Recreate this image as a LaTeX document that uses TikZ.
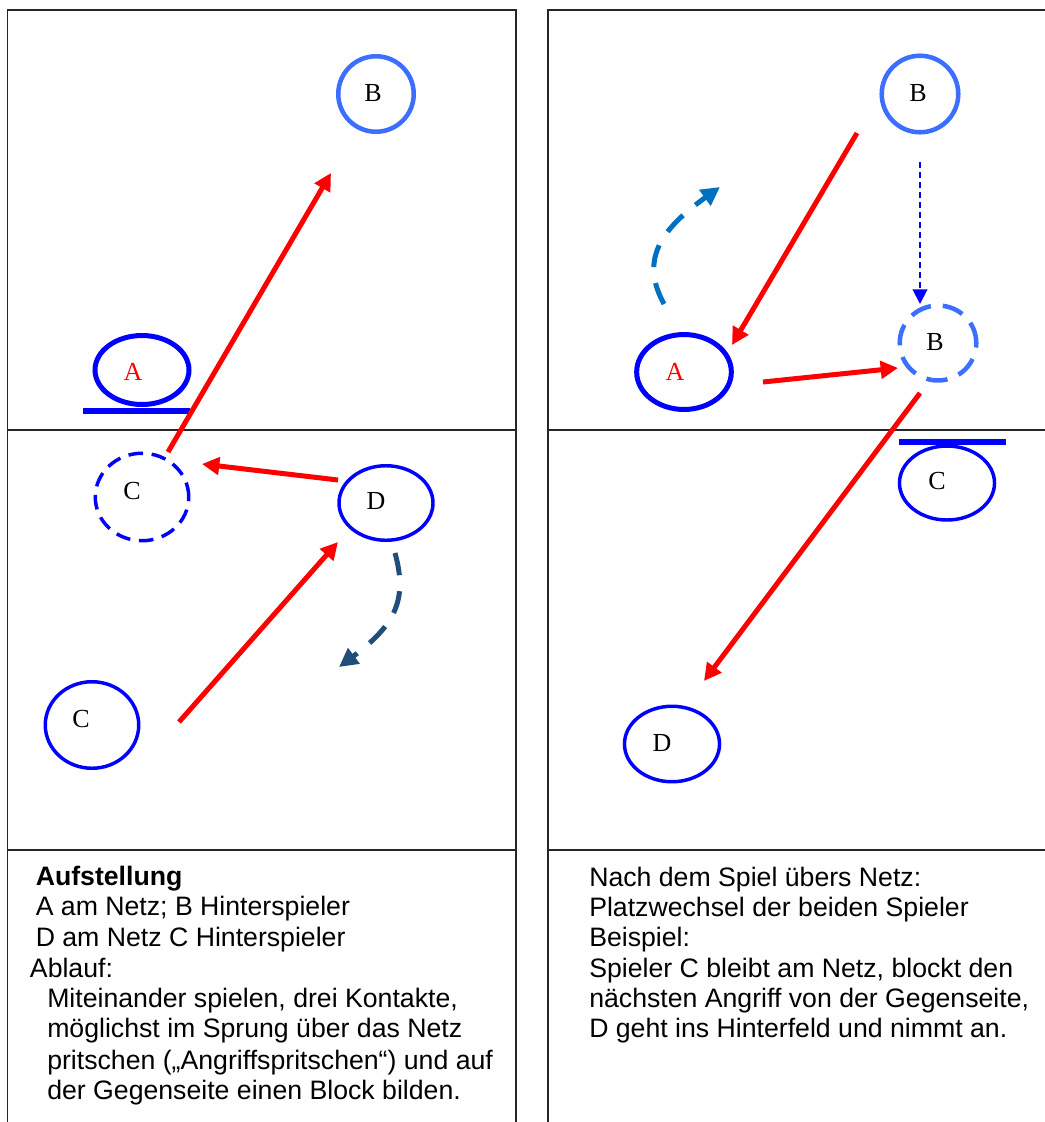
\documentclass[tikz,border=0pt]{standalone}
\usepackage{fontspec}
\setmainfont{Liberation Serif}
\newfontfamily\sansf{Liberation Sans}
\usetikzlibrary{arrows.meta,shapes.geometric}
\definecolor{pblue}{RGB}{0,0,255}
\definecolor{lblue}{RGB}{60,110,255}
\definecolor{pred}{RGB}{255,0,0}
\definecolor{dkblue}{RGB}{31,78,121}
\definecolor{tblue}{RGB}{0,112,192}
\begin{document}
\begin{tikzpicture}[x=0.75pt,y=-0.75pt,
  frame/.style={line width=1.3pt,black!85},
  player/.style 2 args={ellipse,draw=pblue,line width=2.6pt,inner sep=0pt,minimum width=#1,minimum height=#2},
  lab/.style={inner sep=0pt,font=\fontsize{19.5pt}{22pt}\selectfont},
  pass/.style={draw=pred,line width=3.75pt,-{Triangle[length=13pt,width=13pt]}},
  run/.style={line width=3.75pt,dash pattern=on 17pt off 12pt,-{Triangle[length=14pt,width=14pt]}},
  netbar/.style={draw=pblue,line width=4.3pt},
  txt/.style={inner sep=0pt,anchor=base west,font=\sansf\fontsize{20pt}{23pt}\selectfont}]
\useasboundingbox (0,0) rectangle (1045,1122);
% frames
\draw[frame] (7.5,1122) -- (7.5,10) -- (516,10) -- (516,1122);
\draw[frame] (7.5,430) -- (516,430);
\draw[frame] (7.5,850) -- (516,850);
\draw[frame] (548,1122) -- (548,10) -- (1045,10);
\draw[frame] (548,430) -- (1045,430);
\draw[frame] (548,850) -- (1045,850);
% ---------------- left panel
\node[player={56.6pt}{56.6pt},draw=lblue,line width=3.4pt] (B1) at (376,94) {};
\node[lab] (B1l) at (373,93) {B};
\node[player={70.5pt}{51.75pt},line width=3.75pt] (A1) at (142,370) {};
\node[lab,text=pred] (A1l) at (133,372) {A};
\coordinate (bar1a) at (83,411);
\coordinate (bar1b) at (190,411);
\draw[netbar] (bar1a) -- (bar1b);
\node[player={70.1pt}{65.6pt},dash pattern=on 11pt off 6.5pt] (C1) at (142,497) {};
\node[lab] (C1l) at (132,491) {C};
\node[player={70.5pt}{55.9pt}] (D1) at (386,503) {};
\node[lab] (D1l) at (376,501) {D};
\node[player={70.1pt}{64.9pt}] (C2) at (92,725) {};
\node[lab] (C2l) at (81,719) {C};
\coordinate (p1s) at (168,452);
\coordinate (p1e) at (331,173);
\coordinate (p2s) at (338,480);
\coordinate (p2e) at (202,464);
\coordinate (p3s) at (179,722);
\coordinate (p3e) at (338,542);
\draw[pass] (p1s) -- (p1e);
\draw[pass] (p2s) -- (p2e);
\draw[pass] (p3s) -- (p3e);
\coordinate (r1s) at (395,553);
\coordinate (r1e) at (339,667);
\draw[run,draw=dkblue] (r1s) .. controls (408,600) and (395,625) .. (r1e);
% ---------------- right panel
\node[player={57.4pt}{57.4pt},draw=lblue,line width=3.4pt] (B2) at (920,94) {};
\node[lab] (B2l) at (918,93) {B};
\node[player={57.4pt}{56.2pt},draw=lblue,line width=3.4pt,dash pattern=on 16pt off 9pt] (B3) at (938,343) {};
\node[lab] (B3l) at (935,342) {B};
\node[player={71pt}{56.2pt},line width=3.75pt] (A2) at (684,372) {};
\node[lab,text=pred] (A2l) at (675,372) {A};
\coordinate (bar2a) at (899,442);
\coordinate (bar2b) at (1006,442);
\draw[netbar] (bar2a) -- (bar2b);
\node[player={71.3pt}{55.5pt}] (C3) at (947,483) {};
\node[lab] (C3l) at (937,481) {C};
\node[player={71.3pt}{56.6pt}] (D2) at (672,744) {};
\node[lab] (D2l) at (662,743) {D};
\coordinate (q1s) at (857,133);
\coordinate (q1e) at (732,345);
\coordinate (q2s) at (763,382);
\coordinate (q2e) at (898,368);
\coordinate (q3s) at (920,393);
\coordinate (q3e) at (704,681);
\draw[pass] (q1s) -- (q1e);
\draw[pass] (q2s) -- (q2e);
\draw[pass] (q3s) -- (q3e);
\coordinate (m1s) at (920,162);
\coordinate (m1e) at (920,304);
\draw[draw=pblue,line width=1.5pt,dash pattern=on 4.5pt off 3pt,-{Triangle[length=11pt,width=11pt]}] (m1s) -- (m1e);
\coordinate (r2s) at (664,304);
\coordinate (r2e) at (720,187);
\draw[run,draw=tblue] (r2s) .. controls (640,260) and (660,230) .. (r2e);
% ---------------- texts
\node[txt,font=\sansf\bfseries\fontsize{20pt}{23pt}\selectfont] (t1) at (35.5,885) {Aufstellung};
\node[txt] (t2) at (35.5,915) {A am Netz; B Hinterspieler};
\node[txt] (t3) at (35.5,946) {D am Netz C Hinterspieler};
\node[txt] (t4) at (29.7,977) {Ablauf:};
\node[txt] (t5) at (47,1007) {Miteinander spielen, drei Kontakte,};
\node[txt] (t6) at (47,1037) {möglichst im Sprung über das Netz};
\node[txt] (t7) at (47,1069) {pritschen („Angriffspritschen“) und auf};
\node[txt] (t8) at (47,1099) {der Gegenseite einen Block bilden.};
\node[txt] (u1) at (589,886) {Nach dem Spiel übers Netz:};
\node[txt] (u2) at (589,916) {Platzwechsel der beiden Spieler};
\node[txt] (u3) at (589,946) {Beispiel:};
\node[txt] (u4) at (589,977) {Spieler C bleibt am Netz, blockt den};
\node[txt] (u5) at (589,1007) {nächsten Angriff von der Gegenseite,};
\node[txt] (u6) at (589,1037) {D geht ins Hinterfeld und nimmt an.};
\end{tikzpicture}
\end{document}
